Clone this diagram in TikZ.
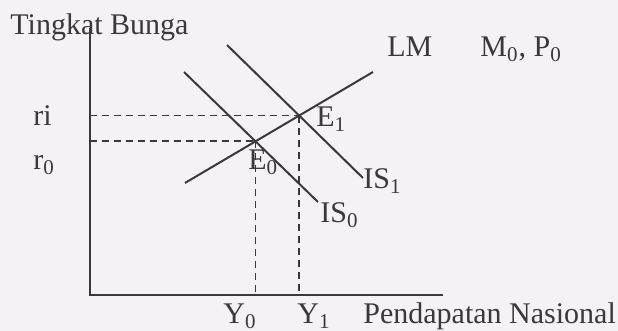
\documentclass[tikz,border=0pt]{standalone}
\usepackage{fontspec}
\setmainfont{Liberation Serif}
\usepackage{xcolor}
\usetikzlibrary{intersections, positioning}
\definecolor{ink}  {RGB}{ 58, 56, 58}
\definecolor{paper}{RGB}{244,242,246}

\begin{document}
\begin{tikzpicture}[
  x=0.5pt, y=-0.5pt,
  lbl/.style={inner sep=0pt, anchor=base west, text=ink,
    font=\fontsize{15}{18}\selectfont},
  ax/.style={draw=ink, line width=1.1pt},
  crv/.style={draw=ink, line width=1pt},
  dsh/.style={draw=ink, line width=0.9pt,
    dash pattern=on 3.5pt off 2.5pt}
]
  \fill[paper] (0,0) rectangle (618,331);
  \useasboundingbox (0,0) rectangle (618,331);
  % Axes
  \coordinate (O)    at (90,295);
  \coordinate (ytop) at (90,28);
  \coordinate (xend) at (443,295);
  \draw[ax] (ytop) -- (O) -- (xend);
  % Curves
  \coordinate (lm0)  at (185,183);
  \coordinate (lm1)  at (373,72);
  \coordinate (isa0) at (184,72);
  \coordinate (isa1) at (318,202);
  \coordinate (isb0) at (227,45);
  \coordinate (isb1) at (363,178);
  \draw[crv, name path=lm]  (lm0)  -- (lm1);
  \draw[crv, name path=is0] (isa0) -- (isa1);
  \draw[crv, name path=is1] (isb0) -- (isb1);
  \path[name intersections={of=lm and is0, by=E0}];
  \path[name intersections={of=lm and is1, by=E1}];
  % Dashed guides
  \coordinate (rE1) at (O |- E1);
  \coordinate (rE0) at (O |- E0);
  \coordinate (yE0) at (O -| E0);
  \coordinate (yE1) at (O -| E1);
  \draw[dsh] (rE1) -- (E1);
  \draw[dsh] (rE0) -- (E0);
  \draw[dsh] (E0) -- (yE0);
  \draw[dsh] (E1) -- (yE1);
  % Labels
  \node[lbl] (ylab)  at (10,35)   {Tingkat Bunga};
  \node[lbl] (xlab)  at (363,324) {Pendapatan Nasional};
  \node[lbl] (ri)    at (33,126)  {ri};
  \node[lbl] (r0)    at (33,170)  {r\textsubscript{0}};
  \node[lbl] (e0lab) at (248,170) {E\textsubscript{0}};
  \node[lbl] (e1lab) at (316,127) {E\textsubscript{1}};
  \node[lbl] (lmlab) at (387,57)  {LM};
  \node[lbl] (mp)    at (480,57)  {M\textsubscript{0}, P\textsubscript{0}};
  \node[lbl] (is1lb) at (363,189) {IS\textsubscript{1}};
  \node[lbl] (is0lb) at (320,223) {IS\textsubscript{0}};
  \node[lbl] (y0)    at (223,324) {Y\textsubscript{0}};
  \node[lbl] (y1)    at (297,324) {Y\textsubscript{1}};
\end{tikzpicture}
\end{document}
